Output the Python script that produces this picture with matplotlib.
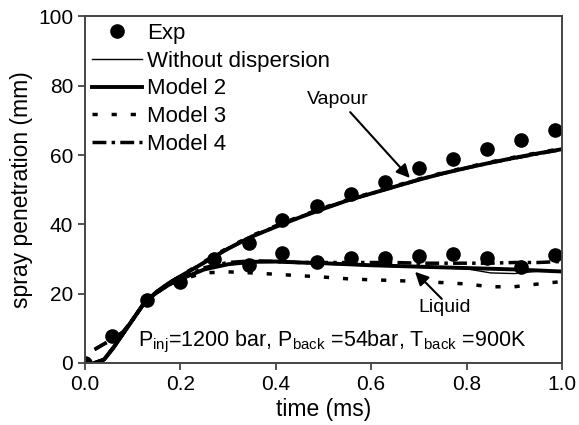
import matplotlib
matplotlib.use("Agg")
import matplotlib.pyplot as plt

plt.rcParams["font.family"] = ["Liberation Sans", "DejaVu Sans"]
plt.rcParams["mathtext.fontset"] = "custom"
plt.rcParams["mathtext.rm"] = "Liberation Sans"

# experimental points
exp_t_vap = [0.0, 0.057, 0.129, 0.2, 0.271, 0.343, 0.414, 0.486, 0.557,
             0.629, 0.7, 0.771, 0.843, 0.914, 0.986]
exp_vap = [0, 7.8, 18.2, 23.4, 30.0, 34.6, 41.3, 45.3, 48.8, 52.2, 56.3,
           58.9, 61.8, 64.4, 67.2]
exp_t_liq = [0.343, 0.414, 0.486, 0.557, 0.629, 0.7, 0.771, 0.843, 0.914, 0.986]
exp_liq = [28.3, 31.7, 29.1, 30.3, 30.3, 30.9, 31.5, 30.3, 27.7, 31.2]

# model time grid
t = [0.02, 0.04, 0.06, 0.08, 0.10, 0.125, 0.15, 0.175, 0.20, 0.25, 0.30,
     0.35, 0.40, 0.45, 0.50, 0.55, 0.60, 0.65, 0.70, 0.75, 0.80, 0.85,
     0.90, 0.95, 1.00]

vap_nodisp = [0, 1, 4.5, 8.5, 12.5, 17.5, 20.5, 23, 25, 29, 33, 36.5, 39.3,
              42, 44.5, 46.8, 48.8, 50.8, 52.8, 54.6, 56.2, 57.7, 59, 60.3, 61.5]
vap_m2 = [0, 1, 4.5, 8.5, 12.5, 17.5, 20.5, 23, 25, 29, 33, 36.5, 39.3,
          42, 44.5, 46.9, 48.9, 50.9, 52.9, 54.7, 56.3, 57.8, 59.2, 60.5, 61.7]
vap_m3 = [0, 1, 4.5, 8.5, 12.5, 17.5, 20.5, 23, 25.2, 29.3, 33.3, 36.8, 39.6,
          42.3, 44.8, 47.1, 49.1, 51.1, 53.1, 54.9, 56.5, 58, 59.4, 60.7, 61.9]
vap_m4 = [3.9, 5.5, 7, 9, 12.5, 17.5, 20.5, 23, 25, 29, 33, 36.5, 39.4,
          42.1, 44.6, 46.9, 48.9, 50.9, 52.9, 54.7, 56.3, 57.8, 59.1, 60.4, 61.6]

liq_nodisp = [0, 1, 4.5, 8.5, 12.5, 17.5, 20.3, 22.5, 24.2, 27, 28.3, 29,
              29, 28.8, 28.5, 28.3, 28, 27.8, 27.6, 27.4, 27.2, 26, 25.8, 26.5, 26.5]
liq_m2 = [0, 1, 4.5, 8.5, 12.5, 17.5, 20.3, 22.5, 24.2, 27, 28.5, 29.2,
          29.3, 29, 28.8, 28.5, 28.2, 28, 27.8, 27.6, 27.4, 27.2, 27, 26.7, 26.4]
liq_m3 = [0, 1, 4.5, 8.5, 12.5, 17.5, 20.3, 22.3, 24, 26, 26.3, 26, 25.6,
          25.2, 24.8, 24.3, 24, 23.8, 23.5, 23.2, 22.8, 22, 22, 22.8, 23.5]
liq_m4 = [3.9, 5.5, 7, 9, 12.5, 17.5, 20.3, 22.5, 24.3, 27.5, 29, 29.5,
          29.3, 29, 29, 29, 29, 29, 28.8, 28.8, 28.8, 28.8, 29, 29, 29.3]

dotted = (0, (1.5, 4))
dashdot = (0, (4, 1.5, 1, 1.5))

fig = plt.figure(figsize=(5.79, 4.25), dpi=100)
ax = fig.add_axes([0.1468, 0.1459, 0.8238, 0.8153])

ax.plot(exp_t_vap, exp_vap, "o", color="black", markersize=9.5, label="Exp")
ax.plot(exp_t_liq, exp_liq, "o", color="black", markersize=9.5)

ax.plot(t, vap_nodisp, "-", color="black", lw=1.0, label="Without dispersion")
ax.plot(t, liq_nodisp, "-", color="black", lw=1.0)
ax.plot(t, vap_m2, "-", color="black", lw=2.8, label="Model 2")
ax.plot(t, liq_m2, "-", color="black", lw=2.8)
ax.plot(t, vap_m3, linestyle=dotted, color="black", lw=2.5, label="Model 3")
ax.plot(t, liq_m3, linestyle=dotted, color="black", lw=2.5)
ax.plot(t, vap_m4, linestyle=dashdot, color="black", lw=2.5, label="Model 4")
ax.plot(t, liq_m4, linestyle=dashdot, color="black", lw=2.5)

ax.text(0.53, 76, "Vapour", fontsize=14, ha="center", va="center")
ax.annotate("", xy=(0.681, 53.4), xytext=(0.556, 72.4),
            arrowprops=dict(arrowstyle="-|>", color="black", lw=1.5,
                            mutation_scale=20, shrinkA=0, shrinkB=0))
ax.text(0.755, 15.9, "Liquid", fontsize=14, ha="center", va="center")
ax.annotate("", xy=(0.692, 26.3), xytext=(0.748, 18.5),
            arrowprops=dict(arrowstyle="-|>", color="black", lw=1.5,
                            mutation_scale=20, shrinkA=0, shrinkB=0))

ax.text(0.111, 6.2,
        r"P$_{\rm inj}$=1200 bar, P$_{\rm back}$ =54bar, T$_{\rm back}$ =900K",
        fontsize=15.5, va="center")

ax.set_xlim(0, 1.0)
ax.set_ylim(0, 100)
ax.set_xticks([0.0, 0.2, 0.4, 0.6, 0.8, 1.0])
ax.set_yticks([0, 20, 40, 60, 80, 100])
ax.set_xticklabels(["0.0", "0.2", "0.4", "0.6", "0.8", "1.0"])
ax.tick_params(direction="out", length=5, width=1.3, color="#444444",
               labelsize=15)
ax.set_xlabel("time (ms)", fontsize=16.5, labelpad=3)
ax.set_ylabel("spray penetration (mm)", fontsize=16.5, labelpad=4)
for s in ax.spines.values():
    s.set_linewidth(1.4)
    s.set_color("#444444")

ax.legend(loc="upper left", frameon=False, fontsize=16, handlelength=2.25,
          borderaxespad=0.1, labelspacing=0.3, handletextpad=0.25,
          borderpad=0.2)

fig.savefig("out.png", dpi=100)
